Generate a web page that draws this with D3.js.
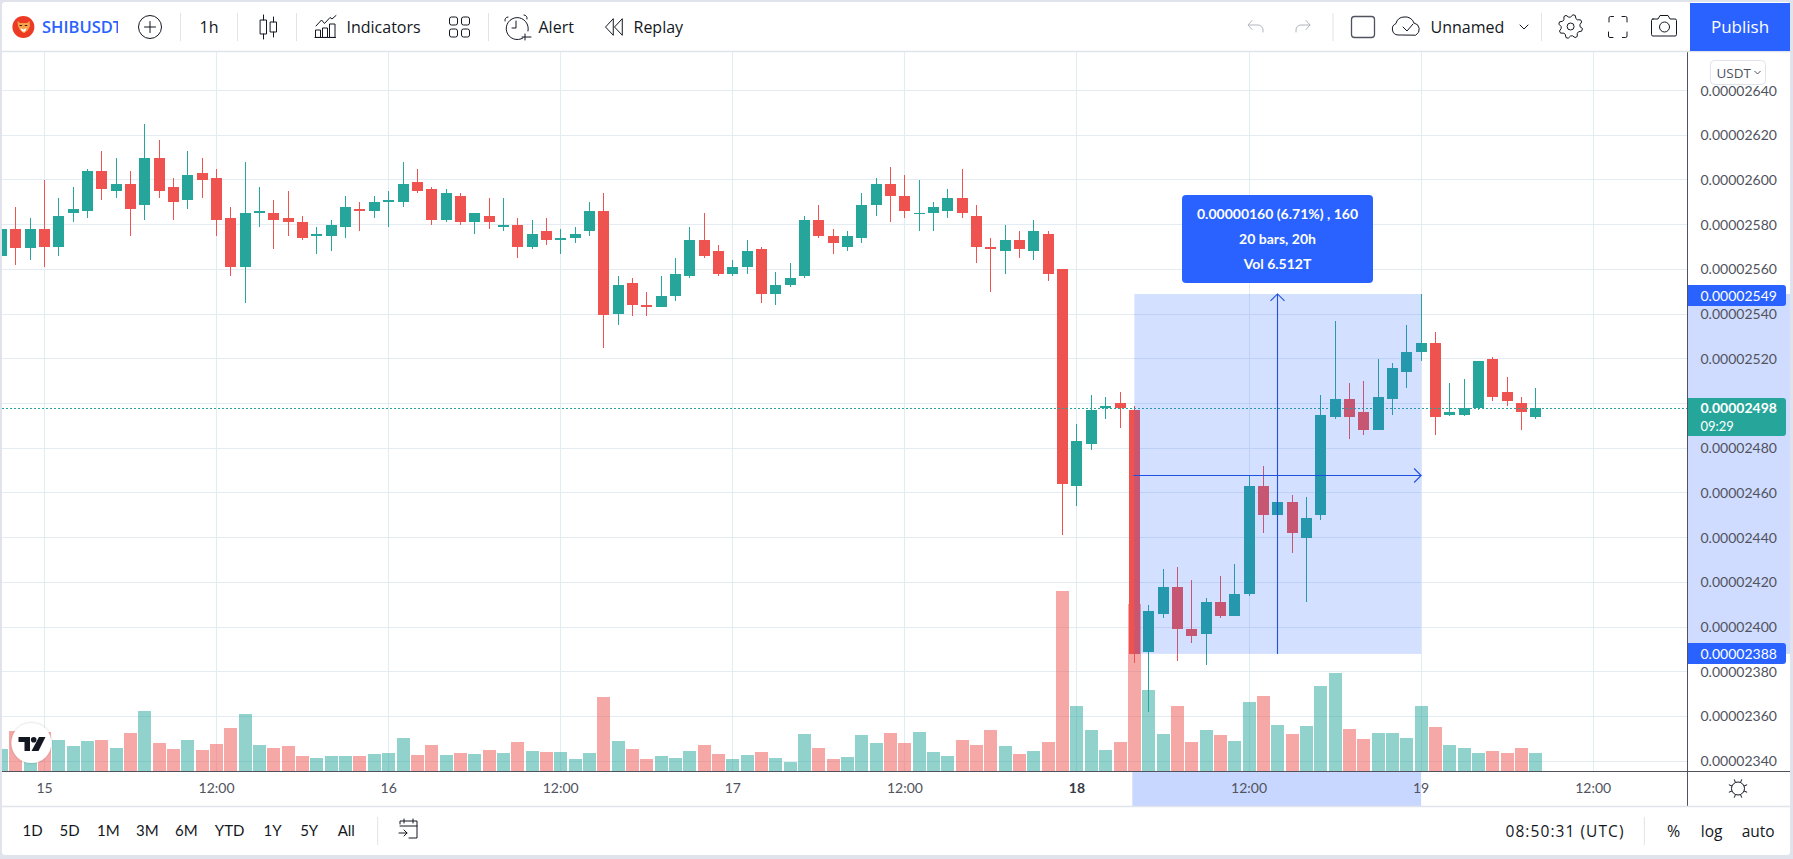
<!DOCTYPE html>
<html><head><meta charset="utf-8">
<script src="https://cdn.jsdelivr.net/npm/d3@7"></script>
<style>html,body{margin:0;padding:0;background:#e0e3eb;overflow:hidden}svg{display:block}text{font-family:Lato,"Open Sans",sans-serif}.ui{font-family:"Open Sans",sans-serif}</style>
</head><body><div id="c"></div>
<script>
// ---------- data (first bar is 3 hours before the 15th 00:00, one bar per hour) ----------
const firstHour = -3;
const opens = [2566,2578,2569.5,2578,2570,2585,2586,2604,2595,2598,
2589,2610,2597,2591,2603,2601,2583,2561,2585,2585,
2583,2581,2575,2575,2579,2587,2586,2590,2590,2599,
2596,2582,2593,2581,2584,2579,2580,2570,2577,2573,
2574,2577,2586,2540,2554,2544,2543,2548,2557,2573,
2568,2558,2561,2569,2549,2553,2557,2582,2575,2570,
2574,2589,2598,2593,2585,2585,2586,2592,2584,2570,
2568,2573,2568,2576,2560,2463,2482,2498,2500,2497,
2389,2406,2418,2399,2397,2411,2405,2415,2463,2450,
2456,2440,2450,2494,2502,2496,2488,2502,2514,2523,
2527,2495,2495,2498,2520,2505,2500,2494];
const highs = [2584,2588,2583,2600,2592,2597,2605,2613,2610,2604,
2625,2618,2601,2613,2610,2605,2588,2608,2597,2591,
2595,2584,2579,2582,2593,2590,2593,2595,2608,2605,
2597,2596,2594,2585,2592,2592,2583,2582,2583,2578,
2579,2590,2594,2557,2556,2550,2557,2565,2579,2585,
2571,2564,2573,2570,2559,2563,2584,2589,2578,2577,
2594,2601,2606,2602,2600,2590,2596,2605,2589,2574,
2580,2577,2582,2577,2560,2491,2504,2503,2505,2499,
2410,2426,2427,2421,2413,2423,2428,2468,2472,2456,
2459,2458,2504,2537,2509,2510,2520,2518,2535,2549,
2532,2509,2511,2519,2521,2512,2503,2507];
const lows = [2562,2562,2564,2561,2566,2581,2583,2591,2592,2575,
2582,2592,2582,2587,2592,2575,2557,2545,2579,2569,
2575,2573,2567,2568,2574,2577,2583,2579,2588,2594,
2580,2581,2580,2576,2578,2577,2565,2569,2571,2567,
2572,2575,2525,2535,2539,2539,2543,2546,2556,2565,
2557,2557,2558,2545,2544,2552,2556,2574,2567,2568,
2572,2584,2581,2583,2577,2577,2583,2583,2563,2550,
2558,2565,2564,2555,2441,2454,2479,2493,2489,2384,
2362,2404,2385,2393,2383,2404,2405,2414,2442,2450,
2433,2411,2448,2493,2484,2486,2488,2495,2507,2519,
2486,2494.5,2494.5,2497,2501,2499,2488,2493];
const closes = [2578,2569.5,2578,2570,2584,2587,2604,2596,2598,2587,
2610,2595,2590,2602,2600,2582,2561,2585,2586,2582,
2581,2574,2576,2580,2588,2586,2590,2591,2598,2595,
2582,2594,2581,2585,2581,2580,2570,2576,2573,2574,
2576,2586,2539.5,2553,2544,2543,2548,2558,2573,2566,
2558,2561,2568,2549,2553,2556,2582,2575,2572,2575,
2589,2598,2593,2586,2585,2588,2592,2585,2570,2569,
2573,2569,2577,2558,2464,2483,2497,2499,2498,2388,
2407,2418,2399,2396,2411,2405,2415,2463,2450,2456,
2442,2449,2495,2502,2494,2488,2503,2516,2523,2527,
2494,2496,2498,2519,2503,2501,2496,2498];
const volumes = [132,240,160,234,186,150,180,186,138,228,
360,168,132,186,126,162,258,342,156,138,
150,90,78,90,90,90,102,108,198,96,
156,96,108,102,126,108,174,120,114,114,
72,108,444,180,132,72,90,78,120,156,
102,72,96,114,78,54,222,138,72,84,
216,168,228,168,234,114,90,186,156,246,
150,102,120,174,1080,390,246,126,174,1002,
486,222,390,174,246,216,180,414,450,276,
222,270,510,588,252,192,228,228,198,390,
264,156,138,108,120,108,138,108];
const priceTicks = [2640,2620,2600,2580,2560,2540,2520,2500,2480,2460,2440,2420,2400,2380,2360,2340];
const hiddenPriceTicks = [2500];   // covered by the last-price flag in the reference
const timeTickHours = [0,12,24,36,48,60,72,84,96,108];
const timeTickLabels = ["15","12:00","16","12:00","17","12:00","18","12:00","19","12:00"];
const rangeButtons = ["1D","5D","1M","3M","6M","YTD","1Y","5Y","All"];
const measureFromHour = 76, measureToHour = 96;   // start / end of the measure box
const measureHigh = 2549, measureLow = 2388, measureMid = 2468, lastPrice = 2498;
const measureLines = ["0.00000160 (6.71%) , 160","20 bars, 20h","Vol 6.512T"];

// ---------- layout ----------
const W=1793,H=859, GREEN="#26a69a",RED="#ef5350",BLUE="#2962ff",INK="#131722",AXIS="#50535e",GRID="#e4ecf3",LINE="#e0e3eb";
const paneL=2,paneR=1687,paneT=52,paneB=771,axisB=806,frameR=1790,frameB=855;
const x=d3.scaleLinear().domain([0,120]).range([44.5,44.5+120*14.34]);
const y=d3.scaleLinear().domain([2640,2340]).range([90.5,761.2]);
const yv=d3.scaleLinear().domain([0,1200]).range([paneB,paneB-200]);
const fmt=p=>"0."+String(Math.round(p)).padStart(8,"0");
const bars=opens.map((o,i)=>({hour:firstHour+i,o,h:highs[i],l:lows[i],c:closes[i],v:volumes[i]}));

const svg=d3.select("#c").append("svg").attr("width",W).attr("height",H);
svg.append("rect").attr("width",W).attr("height",H).attr("fill","#e0e3eb");
svg.append("rect").attr("x",2).attr("y",2).attr("width",frameR-2).attr("height",frameB-2).attr("rx",3).attr("fill","#fff");
const defs=svg.append("defs");
defs.append("clipPath").attr("id","pane").append("rect").attr("x",paneL).attr("y",paneT).attr("width",paneR-paneL).attr("height",paneB-paneT);
defs.append("clipPath").attr("id","sym").append("rect").attr("x",40).attr("y",10).attr("width",78).attr("height",34);
defs.append("filter").attr("id","sh").append("feDropShadow").attr("dx",0).attr("dy",0).attr("stdDeviation",1.2).attr("flood-color","#000").attr("flood-opacity",.25);

const pane=svg.append("g").attr("clip-path","url(#pane)");
// grid
pane.append("g").selectAll("line").data(priceTicks).join("line")
 .attr("x1",paneL).attr("x2",paneR).attr("y1",d=>Math.round(y(d)-.5)+.5).attr("y2",d=>Math.round(y(d)-.5)+.5).attr("stroke",GRID);
pane.append("g").selectAll("line").data(timeTickHours).join("line")
 .attr("y1",paneT).attr("y2",paneB).attr("x1",d=>Math.floor(x(d))+.5).attr("x2",d=>Math.floor(x(d))+.5).attr("stroke",GRID);
// volume
pane.append("g").attr("opacity",.5).selectAll("rect").data(bars).join("rect")
 .attr("x",d=>Math.round(x(d.hour)-6.5)).attr("width",13)
 .attr("y",d=>yv(d.v)).attr("height",d=>paneB-yv(d.v))
 .attr("fill",d=>d.c>=d.o?GREEN:RED);
// candles
const cg=pane.append("g").selectAll("g").data(bars).join("g").attr("fill",d=>d.c>=d.o?GREEN:RED);
cg.append("rect").attr("x",d=>Math.round(x(d.hour)-5.5)+5).attr("width",1)
 .attr("y",d=>Math.round(y(d.h))).attr("height",d=>Math.max(1,Math.round(y(d.l))-Math.round(y(d.h))));
cg.append("rect").attr("x",d=>Math.round(x(d.hour)-5.5)).attr("width",11)
 .attr("y",d=>Math.round(y(Math.max(d.o,d.c))))
 .attr("height",d=>Math.max(1,Math.round(y(Math.min(d.o,d.c)))-Math.round(y(Math.max(d.o,d.c)))));
// last price dotted line
pane.append("line").attr("x1",paneL).attr("x2",paneR).attr("y1",Math.round(y(lastPrice))+.5).attr("y2",Math.round(y(lastPrice))+.5)
 .attr("stroke",GREEN).attr("stroke-dasharray","2 2");

// measure box
const my0=y(measureHigh), my1=y(measureLow);
const ax0=x(measureFromHour), ax1=x(measureToHour), acx=Math.floor((ax0+ax1)/2)+.5, acy=Math.round(y(measureMid))+.5;
const mg=pane.append("g");
mg.append("rect").attr("x",ax0).attr("width",ax1-ax0).attr("y",my0).attr("height",my1-my0).attr("fill",BLUE).attr("fill-opacity",.2);
mg.append("path").attr("fill","none").attr("stroke","#1f50e0").attr("stroke-width",1.1)
 .attr("d",`M${ax0-1},${acy}H${ax1}M${ax1-7},${acy-7}L${ax1},${acy}L${ax1-7},${acy+7}M${acx},${my1}V${my0}M${acx-7},${my0+7}L${acx},${my0}L${acx+7},${my0+7}`);
const tipX0=acx-95.5,tipW=191;
svg.append("rect").attr("x",tipX0).attr("y",195).attr("width",tipW).attr("height",88).attr("rx",4).attr("fill",BLUE);
svg.append("g").selectAll("text").data(measureLines).join("text").attr("x",acx).attr("y",(d,i)=>218.5+i*25)
 .attr("text-anchor","middle").attr("fill","#fff").attr("font-size",14).attr("font-weight",700).text(d=>d);

// time axis
svg.append("rect").attr("x",ax0-2).attr("y",paneB+1).attr("width",ax1-ax0+2).attr("height",axisB-paneB-1).attr("fill","#c8d7ff");
svg.append("g").selectAll("text").data(timeTickHours).join("text").attr("x",d=>x(d)).attr("y",793)
 .attr("text-anchor","middle").attr("font-size",14).attr("fill",(d,i)=>timeTickLabels[i]==="18"?"#363a45":AXIS).attr("font-weight",(d,i)=>timeTickLabels[i]==="18"?700:400)
 .text((d,i)=>timeTickLabels[i]);

// price axis
svg.append("rect").attr("x",paneR+1).attr("y",my0).attr("width",frameR-paneR-1).attr("height",my1-my0).attr("fill","#cfdcff");
svg.append("g").selectAll("text").data(priceTicks.filter(d=>!hiddenPriceTicks.includes(d))).join("text").attr("x",1700.5).attr("y",d=>y(d)+5)
 .attr("font-size",14).attr("fill",AXIS).text(fmt);
const flag=(yc,h,fill)=>svg.append("path").attr("fill",fill)
 .attr("d",`M${paneR},${yc-h/2}H1783a3,3 0 0 1 3,3V${yc+h/2-3}a3,3 0 0 1 -3,3H${paneR}Z`);
flag(295.5,21,BLUE); flag(653.5,21,BLUE); flag(417,38,GREEN);
const lab=(t,yy,extra={})=>{const s=svg.append("text").attr("x",1700.5).attr("y",yy).attr("font-size",14).attr("fill","#fff").text(t);for(const k in extra)s.attr(k,extra[k]);return s;};
lab(fmt(measureHigh),300.5); lab(fmt(measureLow),658.5); lab(fmt(lastPrice),413,{"font-weight":700}); lab("09:29",431,{"font-size":13});
svg.append("line").attr("x1",paneR+.5).attr("x2",paneR+.5).attr("y1",paneT).attr("y2",axisB).attr("stroke",AXIS);
svg.append("line").attr("x1",paneL).attr("x2",frameR).attr("y1",paneB+.5).attr("y2",paneB+.5).attr("stroke",AXIS);
svg.append("rect").attr("x",1710.5).attr("y",60.5).attr("width",55).attr("height",24).attr("rx",4).attr("fill","#fff").attr("stroke",LINE);
svg.append("text").attr("class","ui").attr("x",1716.5).attr("y",77.5).attr("font-size",13.5).attr("fill",AXIS).text("USDT");
svg.append("path").attr("fill","none").attr("stroke",AXIS).attr("d","M1754.5,71l3,3l3,-3");

// toolbars
svg.append("line").attr("x1",2).attr("x2",frameR).attr("y1",51.5).attr("y2",51.5).attr("stroke",LINE).attr("stroke-width",1.5);
svg.append("line").attr("x1",2).attr("x2",frameR).attr("y1",806.5).attr("y2",806.5).attr("stroke",LINE).attr("stroke-width",1.5);
const T=(t,xx,yy,o={})=>{const s=svg.append("text").attr("class","ui").attr("x",xx).attr("y",yy).attr("font-size",o.size||16).attr("fill",o.fill||INK)
 .attr("text-anchor",o.anchor||"start").attr("font-weight",o.w||400).attr("clip-path",o.clip||null).text(t);
 if(o.len)s.attr("textLength",o.len).attr("lengthAdjust","spacing");return s;};
const sep=(xx,y0=13,y1=41)=>svg.append("line").attr("x1",xx).attr("x2",xx).attr("y1",y0).attr("y2",y1).attr("stroke",LINE);
const ic=(d,o={})=>svg.append("path").attr("d",d).attr("fill",o.fill||"none").attr("stroke",o.stroke||INK).attr("stroke-width",o.sw||1).attr("stroke-linecap","round").attr("stroke-linejoin","round");
[180.5,237.5,296.5,488.5,1333,1541.5].forEach(v=>sep(v));
// symbol logo
svg.append("circle").attr("cx",23.4).attr("cy",27).attr("r",11).attr("fill","#ed3a24");
ic("M17.5,21l2.5,2h7l2.5,-2l0.5,5l-2,4l-3.5,3h-1l-3.5,-3l-2,-4z",{fill:"#f6a24a",stroke:"none"});
ic("M20.5,28l3,1.5l3,-1.5l-1.5,3.5h-3z",{fill:"#fff",stroke:"none"});
ic("M20,25.5h1.5M25.3,25.5h1.5",{stroke:"#3a1c0a",sw:1.2});
T("SHIBUSDT",42,33,{fill:BLUE,size:16.5,w:600,clip:"url(#sym)"});
svg.append("circle").attr("cx",150).attr("cy",27).attr("r",11.5).attr("fill","none").attr("stroke",INK);
ic("M150,21.5v11M144.5,27h11");
T("1h",209,33,{anchor:"middle"});
ic("M263.5,15v5M263.5,34v5M260.5,20h6v14h-6zM273.5,17v5M273.5,32v5M270.5,22h6v10h-6z");
ic("M316,26l5.5,-6l3,3.5l5.5,-6l2,1.5l4,-3.5M315.5,37v-7h5v7zM322.5,37v-9h5v9zM329.5,37v-13h5.5v13zM315,37.5h20.5");
T("Indicators",346.5,33);
[[449.5,17],[461.5,17],[449.5,29],[461.5,29]].forEach(p=>svg.append("rect").attr("x",p[0]).attr("y",p[1]).attr("width",8).attr("height",8).attr("rx",2).attr("fill","none").attr("stroke",INK));
ic("M523,38a11,11 0 1 1 5,-7M516,21v7h-4M508,17a3,3 0 0 0 -3,4M524,15a3,3 0 0 1 3,4M525,34v6M522,37h9");
T("Alert",538.5,33);
ic("M613,19l-7.5,8l7.5,8zM622,19l-7.5,8l7.5,8z");
T("Replay",633.5,33);
ic("M1263,32v-2a5,5 0 0 0 -5,-5h-9M1252,20.5l-4,4.5l4,4.5",{stroke:"#b2b5be"});
ic("M1296,32v-2a5,5 0 0 1 5,-5h9M1306,20.5l4,4.5l-4,4.5",{stroke:"#b2b5be"});
svg.append("rect").attr("x",1351.5).attr("y",16.5).attr("width",23).attr("height",21).attr("rx",3).attr("fill","none").attr("stroke",AXIS).attr("stroke-width",1.3);
ic("M1401,35h-3a6,6 0 0 1 -2,-11.5a8,8 0 0 1 8,-6.5a9,9 0 0 1 10,6a6.5,6.5 0 0 1 2,12zM1403,27l4,4l6,-7");
T("Unnamed",1430.5,33);
ic("M1520,25l4,4l4,-4");
// gear
const gearPts=d3.range(32).map(i=>{const a=i*Math.PI/16,r=[12,12,9.5,9.5][i%4];return [1570.6+r*Math.cos(a+.2),26.5+r*Math.sin(a+.2)];});
ic(d3.line().curve(d3.curveLinearClosed)(gearPts));
svg.append("circle").attr("cx",1570.6).attr("cy",26.5).attr("r",3.5).attr("fill","none").attr("stroke",INK);
ic("M1609,22v-4a1.5,1.5 0 0 1 1.5,-1.5h3M1622,16.5h3.5a1.5,1.5 0 0 1 1.5,1.5v4M1627,32v4a1.5,1.5 0 0 1 -1.5,1.5h-3M1613,37.5h-3a1.5,1.5 0 0 1 -1.5,-1.5v-4");
ic("M1653,19h5l2,-3.5h8l2,3.5h5a1.5,1.5 0 0 1 1.5,1.5v14a1.5,1.5 0 0 1 -1.5,1.5h-22a1.5,1.5 0 0 1 -1.5,-1.5v-14a1.5,1.5 0 0 1 1.5,-1.5z");
svg.append("circle").attr("cx",1664.5).attr("cy",27).attr("r",5).attr("fill","none").attr("stroke",INK);
svg.append("rect").attr("x",1690).attr("y",3).attr("width",100).attr("height",48).attr("fill",BLUE);
T("Publish",1740,33,{anchor:"middle",fill:"#fff",size:17,w:500});

// bottom bar
const rx=[32.5,69.6,108.3,147.3,186.4,229.6,272.5,309.2,346.3];
svg.append("g").selectAll("text").data(rangeButtons).join("text").attr("x",(d,i)=>rx[i]).attr("y",836)
 .attr("text-anchor","middle").attr("font-size",15).attr("fill",INK).text(d=>d);
sep(377.7,817,845); sep(1644.4,817,845);
ic("M400,824v-3h17v17h-8M400,826h17M404,819v4M413,819v4M399,833h8M404,830l3,3l-3,3");
T("08:50:31 (UTC)",1505.5,836.5,{size:15.5,len:118});
T("%",1673.5,837,{anchor:"middle",size:16});
T("log",1711.7,836.5,{anchor:"middle",size:15.5});
T("auto",1758.2,836.5,{anchor:"middle",size:15.5});
svg.append("circle").attr("cx",1738).attr("cy",788.5).attr("r",6.5).attr("fill","none").attr("stroke",INK);
ic(d3.range(8).map(i=>{const a=i*Math.PI/4+Math.PI/8,c=Math.cos(a),s=Math.sin(a);return `M${1738+7*c},${788.5+7*s}L${1738+9.5*c},${788.5+9.5*s}`}).join(""));

// TV watermark
svg.append("circle").attr("cx",31.4).attr("cy",743).attr("r",20).attr("fill","#fff").attr("filter","url(#sh)");
ic("M18.5,737H30V751H24.5V742H18.5Z",{fill:INK,stroke:"none"});
svg.append("circle").attr("cx",33.7).attr("cy",739.7).attr("r",2.8).attr("fill",INK);
ic("M39,737H45.5L38.5,751H31.5Z",{fill:INK,stroke:"none"});
</script></body></html>
